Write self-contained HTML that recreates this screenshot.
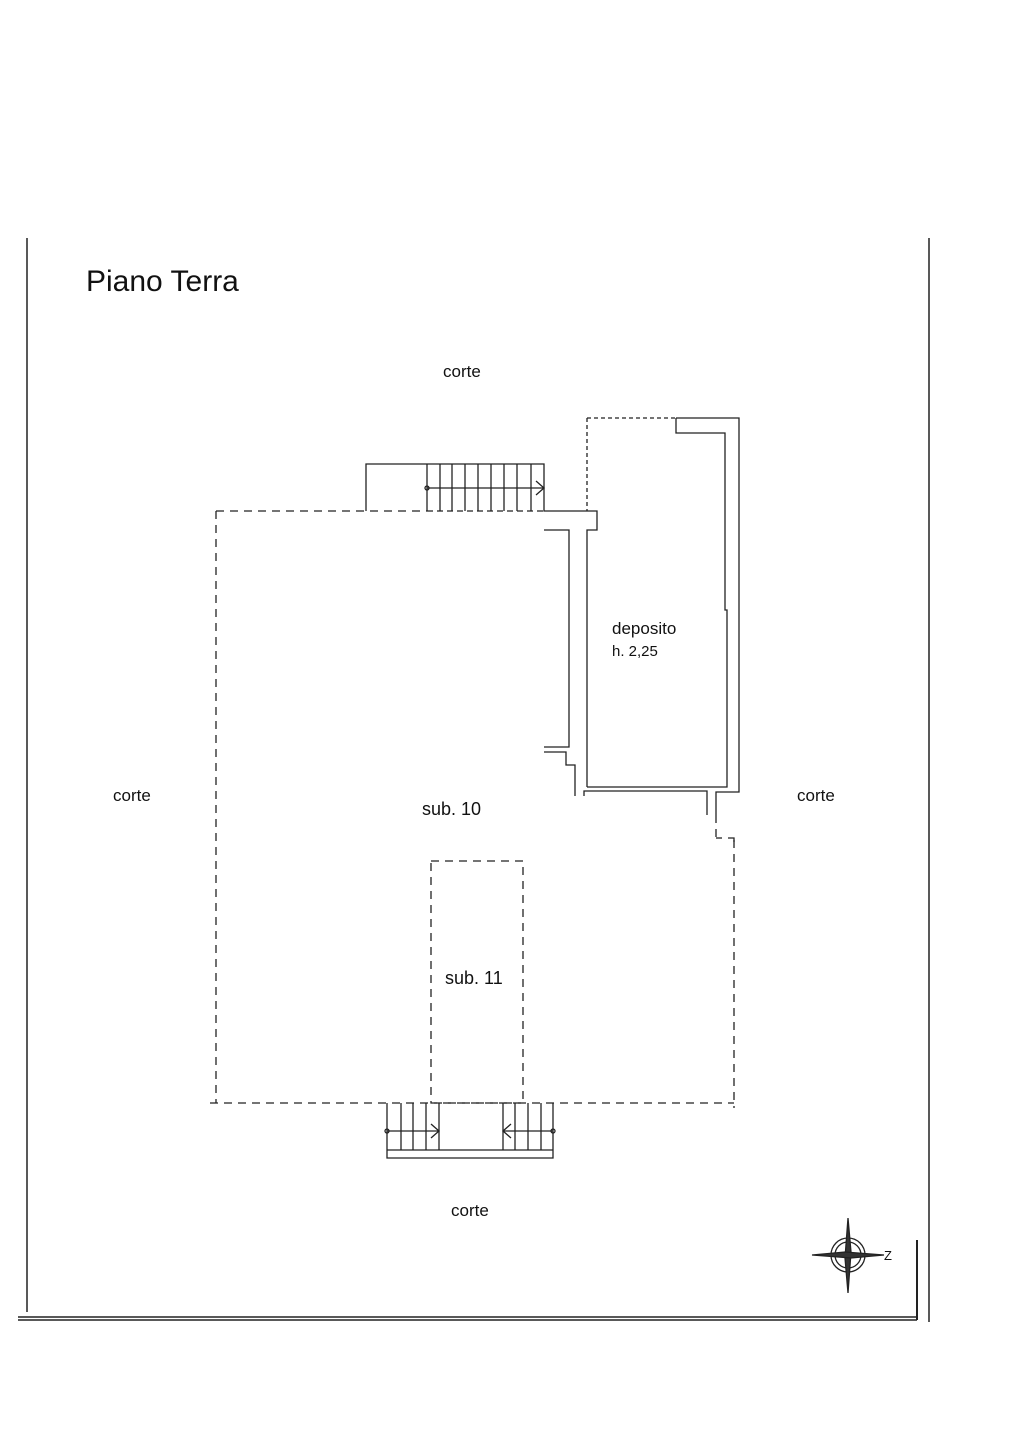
<!DOCTYPE html>
<html><head><style>body{margin:0;background:#fff}svg{display:block}text{font-family:"Liberation Sans",sans-serif;fill:#111}</style></head><body>
<svg width="1017" height="1440" viewBox="0 0 1017 1440" xmlns="http://www.w3.org/2000/svg">
<g stroke="#222" fill="none" stroke-width="1.3">
<line x1="27" y1="238" x2="27" y2="1312" stroke-width="1.5"/>
<line x1="929" y1="238" x2="929" y2="1322" stroke-width="1.5"/>
<line x1="917" y1="1240" x2="917" y2="1320" stroke-width="2"/>
<line x1="18" y1="1317" x2="917" y2="1317" stroke-width="1.5"/>
<line x1="18" y1="1320" x2="917" y2="1320" stroke-width="1.5"/>
<g stroke-dasharray="8,6">
<line x1="216" y1="511" x2="427" y2="511"/>
<line x1="216" y1="511" x2="216" y2="1103"/>
<line x1="210" y1="1103" x2="734" y2="1103"/>
<line x1="734" y1="840" x2="734" y2="1108"/>
<line x1="716" y1="815" x2="716" y2="838"/>
<rect x="431" y="861" width="92" height="242"/>
<line x1="587" y1="418" x2="676" y2="418" stroke-dasharray="4,3"/>
<line x1="587" y1="418" x2="587" y2="511" stroke-dasharray="4,3"/>
</g>
<line x1="427" y1="511" x2="544" y2="511" stroke-dasharray="6,4"/>
<polyline points="716,838 722,838"/><polyline points="728,838 734,838 734,842"/>
<polyline points="366,511 366,464 544,464 544,511 597,511 597,530 587,530 587,787"/>
<line x1="427" y1="464" x2="427" y2="511"/>
<line x1="440" y1="464" x2="440" y2="511"/>
<line x1="452" y1="464" x2="452" y2="511"/>
<line x1="465" y1="464" x2="465" y2="511"/>
<line x1="478" y1="464" x2="478" y2="511"/>
<line x1="491" y1="464" x2="491" y2="511"/>
<line x1="504" y1="464" x2="504" y2="511"/>
<line x1="517" y1="464" x2="517" y2="511"/>
<line x1="531" y1="464" x2="531" y2="511"/>
<line x1="427" y1="488" x2="544" y2="488"/>
<polyline points="536,481 544,488 536,495"/>
<circle cx="427" cy="488" r="2"/>
<polyline points="676,418 739,418 739,792 716,792 716,815"/>
<polyline points="676,418 676,433 725,433 725,610 727,610 727,787 587,787"/>
<polyline points="544,530 569,530 569,747 544,747"/>
<polyline points="544,752 566,752 566,765 575,765 575,796"/>
<polyline points="584,796 584,791 707,791 707,815"/>
<polyline points="387,1103 387,1158 553,1158 553,1103"/>
<line x1="387" y1="1150" x2="553" y2="1150"/>
<line x1="401" y1="1103" x2="401" y2="1150"/>
<line x1="413" y1="1103" x2="413" y2="1150"/>
<line x1="426" y1="1103" x2="426" y2="1150"/>
<line x1="439" y1="1103" x2="439" y2="1150"/>
<line x1="503" y1="1103" x2="503" y2="1150"/>
<line x1="515" y1="1103" x2="515" y2="1150"/>
<line x1="528" y1="1103" x2="528" y2="1150"/>
<line x1="541" y1="1103" x2="541" y2="1150"/>
<line x1="387" y1="1131" x2="439" y2="1131"/>
<polyline points="431,1124 439,1131 431,1138"/>
<line x1="503" y1="1131" x2="553" y2="1131"/>
<polyline points="511,1124 503,1131 511,1138"/>
<circle cx="387" cy="1131" r="2"/><circle cx="553" cy="1131" r="2"/>
<circle cx="848" cy="1255" r="17"/><circle cx="848" cy="1255" r="13"/>
<polygon points="848,1218 851,1252 848,1293 845,1258" fill="#333"/>
<polygon points="812,1255 845,1252 884,1255 851,1258" fill="#333"/>
</g>
<text x="86" y="291" font-size="30">Piano Terra</text>
<text x="443" y="377" font-size="17">corte</text>
<text x="113" y="801" font-size="17">corte</text>
<text x="797" y="801" font-size="17">corte</text>
<text x="451" y="1216" font-size="17">corte</text>
<text x="612" y="634" font-size="17" font-weight="500">deposito</text>
<text x="612" y="656" font-size="15">h. 2,25</text>
<text x="422" y="815" font-size="18" font-weight="500">sub. 10</text>
<text x="445" y="984" font-size="18" font-weight="500">sub. 11</text>
<text x="884" y="1260" font-size="13">Z</text>
</svg>
</body></html>
